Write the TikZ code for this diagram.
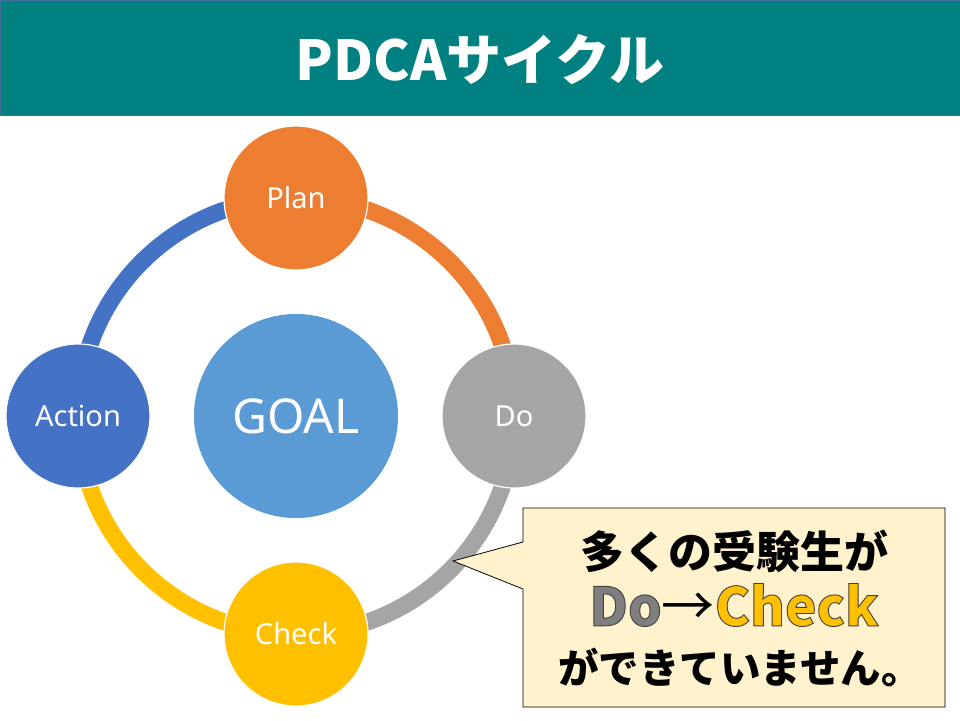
\documentclass[tikz,border=0pt]{standalone}
\usepackage{fontspec}
\usepackage{xcolor}
\usepackage{tikz}
\usetikzlibrary{positioning,backgrounds}
\setmainfont{Noto Sans}
\newfontfamily\jpfont{Noto Sans CJK JP}
\definecolor{TitleTeal}{HTML}{008080}
\definecolor{TitleEdge}{HTML}{41719C}
\definecolor{PlanOrange}{HTML}{ED7D31}
\definecolor{DoGrey}{HTML}{A5A5A5}
\definecolor{CheckGold}{HTML}{FFC000}
\definecolor{ActBlue}{HTML}{4472C4}
\definecolor{GoalBlue}{HTML}{5B9BD5}
\definecolor{NoteFill}{HTML}{FFF2CC}
\definecolor{WordGrey}{HTML}{7F7F7F}
% outlined letters
\newcommand{\edgetext}[2]{{\color{#1}\special{pdf:literal direct 2 Tr 0.9 w 0.25 0.25 0.25 RG}#2\special{pdf:literal direct 0 Tr}}}

\begin{document}
\begin{tikzpicture}[x=1pt,y=-1pt,
    stage/.style={circle,minimum size=144pt,inner sep=0pt,draw=white,line width=1.2pt,
      text=white,font=\fontsize{29}{34}\selectfont},
    ring/.style={line width=17pt}]
  \useasboundingbox (0,0) rectangle (960,720);
  % title bar
  \fill[TitleTeal,draw=TitleEdge,line width=1pt] (0,0) rectangle (960,115);
  \node[text=white,font=\jpfont\bfseries\fontsize{55}{62}\selectfont] (title) at (480,60) {PDCAサイクル};
  % cycle
  \node[circle,fill=GoalBlue,minimum size=204pt,inner sep=0pt,text=white,
    font=\fontsize{48}{56}\selectfont] (goal) at (296,416) {GOAL};
  \node[stage,fill=PlanOrange] (plan) at (296,198) {Plan};
  \node[stage,fill=DoGrey] (do) at (514,416) {Do};
  \node[stage,fill=CheckGold] (check) at (296,634) {Check};
  \node[stage,fill=ActBlue] (act) at (78,416) {Action};
  \begin{scope}[on background layer]
    \draw[ring,PlanOrange] (plan.center) arc[start angle=90,end angle=0,radius=218pt];
    \draw[ring,DoGrey] (do.center) arc[start angle=0,end angle=-90,radius=218pt];
    \draw[ring,CheckGold] (check.center) arc[start angle=-90,end angle=-180,radius=218pt];
    \draw[ring,ActBlue] (act.center) arc[start angle=180,end angle=90,radius=218pt];
  \end{scope}
  % callout
  \coordinate (tip) at (453,561);
  \fill[NoteFill,draw=black,line width=0.8pt] (523,508) -- (945,508) -- (945,707) -- (523,707)
    -- (523,589) -- (tip) -- (523,542) -- cycle;
  \node[font=\jpfont\bfseries\fontsize{44}{50}\selectfont] (line1) at (734,551) {多くの受験生が};
  \node[font=\jpfont\bfseries\fontsize{53}{60}\selectfont] (line2) at (734,605)
    {\edgetext{WordGrey}{Do}{\mdseries →}\edgetext{CheckGold}{Check}};
  \node[font=\jpfont\bfseries\fontsize{40.5}{46}\selectfont] (line3) at (740,667) {ができていません。};
\end{tikzpicture}
\end{document}
